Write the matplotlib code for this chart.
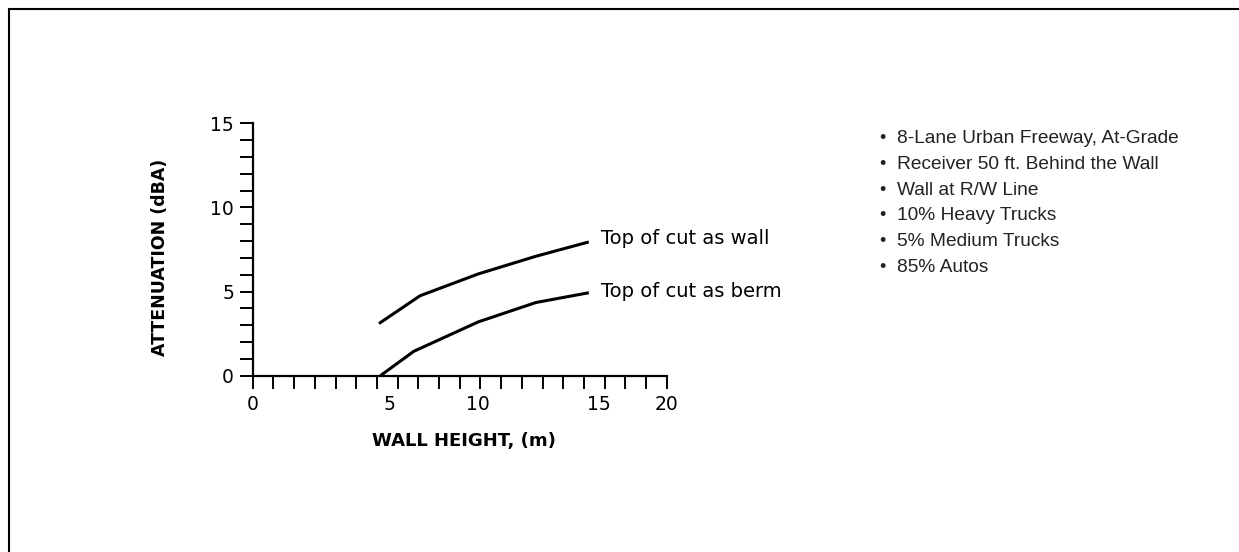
import numpy as np
import matplotlib
matplotlib.use("Agg")
import matplotlib.pyplot as plt
from matplotlib.lines import Line2D

# wall height (m) vs attenuation (dBA)
wall_x = [4.6, 6.7, 10.0, 12.4, 14.6]
wall_y = [3.1, 4.75, 6.05, 7.1, 7.95]
berm_x = [4.65, 6.35, 10.0, 12.4, 14.6]
berm_y = [0.0, 1.45, 3.2, 4.35, 4.93]
curve_names = ["Top of cut as wall", "Top of cut as berm"]

x_labels = [0, 5, 10, 15, 20]
y_labels = [0, 5, 10, 15]

notes = [
    "8-Lane Urban Freeway, At-Grade",
    "Receiver 50 ft. Behind the Wall",
    "Wall at R/W Line",
    "10% Heavy Trucks",
    "5% Medium Trucks",
    "85% Autos",
]

# the drawn x axis has evenly spaced ticks but the labels sit unevenly on it
label_pos = [0, 6.63, 10.9, 16.7, 20]

def fwd(x):
    return np.interp(x, x_labels, label_pos)

def inv(t):
    return np.interp(t, label_pos, x_labels)


fig = plt.figure(figsize=(12.39, 5.52), dpi=100)
ax = fig.add_axes([0.204, 0.3194, 0.3341, 0.4572])

ax.plot(wall_x, wall_y, color="black", lw=2.2, solid_capstyle="butt")
ax.plot(berm_x, berm_y, color="black", lw=2.2, solid_capstyle="butt")

ax.set_xscale("function", functions=(fwd, inv))
ax.set_xlim(0, 20)
ax.set_ylim(0, 15)

for sp in ["top", "right"]:
    ax.spines[sp].set_visible(False)
for sp in ["left", "bottom"]:
    ax.spines[sp].set_linewidth(1.6)

ax.xaxis.remove_overlapping_locs = False
ax.set_xticks(x_labels)
ax.set_xticklabels([str(v) for v in x_labels])
ax.set_xticks(inv(np.arange(21)), minor=True)
ax.tick_params(axis="x", which="major", length=0, pad=14, labelsize=13.5)
ax.tick_params(axis="x", which="minor", length=9, width=1.4, direction="out")

ax.set_yticks(y_labels)
ax.set_yticks(np.arange(0, 16), minor=True)
ax.tick_params(axis="y", which="both", length=9.5, width=1.4, direction="out")
ax.tick_params(axis="y", which="major", pad=4, labelsize=13.5)

ax.set_xlabel("WALL HEIGHT, (m)", fontsize=13, fontweight="bold")
ax.set_ylabel("ATTENUATION (dBA)", fontsize=12.5, fontweight="bold")
ax.xaxis.set_label_coords(0.51, -0.222)
ax.yaxis.set_label_coords(-0.202, 0.468)

ax.annotate(curve_names[0], (wall_x[-1], wall_y[-1]), xytext=(12, 3),
            textcoords="offset pixels", va="center", fontsize=14)
ax.annotate(curve_names[1], (berm_x[-1], berm_y[-1]), xytext=(12, 1),
            textcoords="offset pixels", va="center", fontsize=14)

for i, n in enumerate(notes):
    yy = 1 - (138.3 + 25.9 * i) / 552
    fig.text(0.7124, yy, "\u2022", fontsize=13, va="center", ha="center",
             family="Liberation Sans", color="#222222")
    fig.text(0.7237, yy, n, fontsize=13.8, va="center", family="Liberation Sans",
             color="#222222")

# frame around the picture
fig.add_artist(Line2D([0.0069, 1], [0.9828, 0.9828], color="black", lw=1.5))
fig.add_artist(Line2D([0.0069, 0.0069], [0, 0.9828], color="black", lw=1.5))

fig.savefig("out.png", dpi=100)
